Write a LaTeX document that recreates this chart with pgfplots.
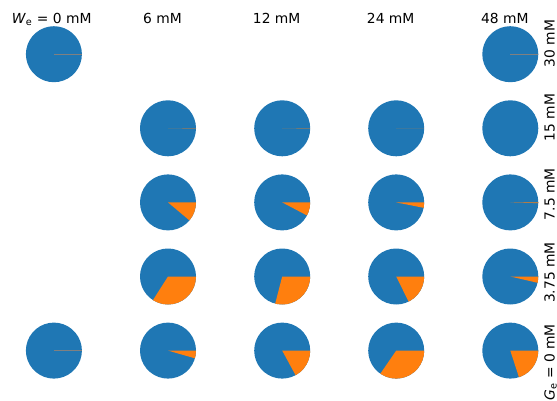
\documentclass[border=0pt]{standalone}
\usepackage{fontspec}
\setmainfont{DejaVu Sans}
\usepackage{pgfplots}
\usepackage{pgfplotstable}
\pgfplotsset{compat=1.18}
\definecolor{tabblue}{RGB}{31,119,180}
\definecolor{taborange}{RGB}{255,127,14}
\definecolor{seam}{RGB}{128,128,128}

% unit circle outline (geometry of the pie disc)
\pgfplotstableread{
a r
0 1
10 1
20 1
30 1
40 1
50 1
60 1
70 1
80 1
90 1
100 1
110 1
120 1
130 1
140 1
150 1
160 1
170 1
180 1
190 1
200 1
210 1
220 1
230 1
240 1
250 1
260 1
270 1
280 1
290 1
300 1
310 1
320 1
330 1
340 1
350 1
360 1
}\circletab

\pgfplotsset{pie/.style={scale only axis, width=40.47pt, height=40.47pt,
  xmin=-1, xmax=1, ymin=-1, ymax=1, hide axis, anchor=center, clip=false}}

\newcommand{\pie}[3]{%
  \begin{axis}[pie, at={(#1*0.7227pt,-#2*0.7227pt)}]
    \addplot[fill=tabblue, draw=none, data cs=polar] table[x=a,y=r]{\circletab};
    #3
  \end{axis}}

\begin{document}
\begin{tikzpicture}[x=0.7227pt, y=-0.7227pt]
\useasboundingbox (0,0) rectangle (557,401);

% column titles
\node[anchor=base, inner sep=0pt] at (51.7,23.3) {\textit{W}\textsubscript{e} = 0 mM};
\node[anchor=base, inner sep=0pt] at (162.5,23.3) {6 mM};
\node[anchor=base, inner sep=0pt] at (276.7,23.3) {12 mM};
\node[anchor=base, inner sep=0pt] at (390.7,23.3) {24 mM};
\node[anchor=base, inner sep=0pt] at (504.8,23.3) {48 mM};

% row labels
\node[rotate=90, anchor=base, inner sep=0pt] at (554.5,43.3) {30 mM};
\node[rotate=90, anchor=base, inner sep=0pt] at (554.5,117.5) {15 mM};
\node[rotate=90, anchor=base, inner sep=0pt] at (554.5,194.2) {7.5 mM};
\node[rotate=90, anchor=base, inner sep=0pt] at (554.5,272.5) {3.75 mM};
\node[rotate=90, anchor=base, inner sep=0pt] at (554.5,362.5) {\textit{G}\textsubscript{e} = 0 mM};

% row G_e = 30 mM
\pie{53.9}{54.2}{\addplot[draw=seam, line width=0.4pt] coordinates {(0,0) (1,0)};}
\pie{510.3}{54.2}{\addplot[draw=seam, line width=0.4pt] coordinates {(0,0) (1,0)};}

% row 15 mM
\pie{168}{128.3}{\addplot[fill=taborange, draw=none, data cs=polar] coordinates {(0,0) (0,1) (-0.8,1)};}
\pie{282.2}{128.3}{\addplot[fill=taborange, draw=none, data cs=polar] coordinates {(0,0) (0,1) (-0.8,1)};}
\pie{396.2}{128.3}{\addplot[fill=taborange, draw=none, data cs=polar] coordinates {(0,0) (0,1) (-0.4,1)};}
\pie{510.3}{128.3}{}

% row 7.5 mM
\pie{168}{202.4}{\addplot[fill=taborange, draw=none, data cs=polar] coordinates {(0,0) (0,1) (-10,1) (-20,1) (-30,1) (-40,1)};}
\pie{282.2}{202.4}{\addplot[fill=taborange, draw=none, data cs=polar] coordinates {(0,0) (0,1) (-10,1) (-20,1) (-27.8,1)};}
\pie{396.2}{202.4}{\addplot[fill=taborange, draw=none, data cs=polar] coordinates {(0,0) (0,1) (-11.2,1)};}
\pie{510.3}{202.4}{\addplot[fill=taborange, draw=none, data cs=polar] coordinates {(0,0) (0,1) (-1.5,1)};}

% row 3.75 mM
\pie{168}{276.5}{\addplot[fill=taborange, draw=none, data cs=polar] coordinates {(0,0) (0,1) (-10,1) (-20,1) (-30,1) (-40,1) (-50,1) (-60,1) (-70,1) (-80,1) (-90,1) (-100,1) (-110,1) (-120,1) (-122.5,1)};}
\pie{282.2}{276.5}{\addplot[fill=taborange, draw=none, data cs=polar] coordinates {(0,0) (0,1) (-10,1) (-20,1) (-30,1) (-40,1) (-50,1) (-60,1) (-70,1) (-80,1) (-90,1) (-100,1) (-104.5,1)};}
\pie{396.2}{276.5}{\addplot[fill=taborange, draw=none, data cs=polar] coordinates {(0,0) (0,1) (-10,1) (-20,1) (-30,1) (-40,1) (-50,1) (-60,1) (-63.7,1)};}
\pie{510.3}{276.5}{\addplot[fill=taborange, draw=none, data cs=polar] coordinates {(0,0) (0,1) (-10,1) (-13,1)};}

% row G_e = 0 mM
\pie{53.9}{350.6}{\addplot[draw=seam, line width=0.4pt] coordinates {(0,0) (1,0)};}
\pie{168}{350.6}{\addplot[fill=taborange, draw=none, data cs=polar] coordinates {(0,0) (0,1) (-10,1) (-16,1)};}
\pie{282.2}{350.6}{\addplot[fill=taborange, draw=none, data cs=polar] coordinates {(0,0) (0,1) (-10,1) (-20,1) (-30,1) (-40,1) (-50,1) (-60,1) (-61.5,1)};}
\pie{396.2}{350.6}{\addplot[fill=taborange, draw=none, data cs=polar] coordinates {(0,0) (0,1) (-10,1) (-20,1) (-30,1) (-40,1) (-50,1) (-60,1) (-70,1) (-80,1) (-90,1) (-100,1) (-110,1) (-120,1) (-124.5,1)};}
\pie{510.3}{350.6}{\addplot[fill=taborange, draw=none, data cs=polar] coordinates {(0,0) (0,1) (-10,1) (-20,1) (-30,1) (-40,1) (-50,1) (-60,1) (-70,1) (-72,1)};}

\end{tikzpicture}
\end{document}
